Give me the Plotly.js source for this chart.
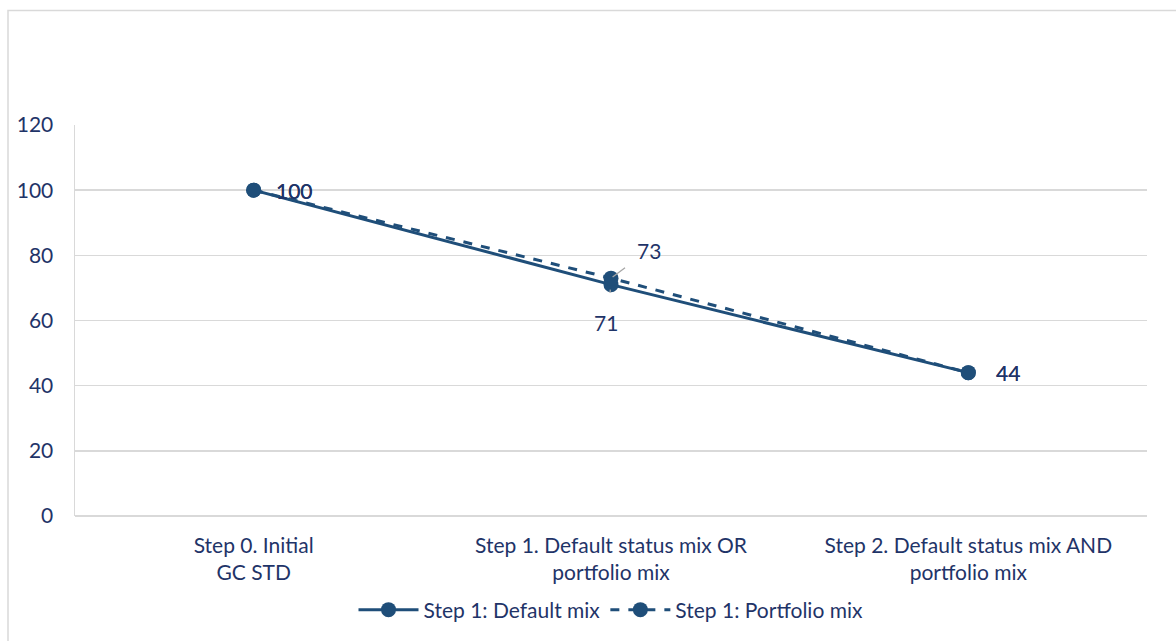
<!DOCTYPE html>
<html>
<head>
<meta charset="utf-8">
<script src="https://cdn.plot.ly/plotly-3.0.1.min.js"></script>
<style>html,body{margin:0;padding:0;background:#fff;}#chart{width:1176px;height:641px;}</style>
</head>
<body>
<div id="chart"></div>
<script>
const categories = ["Step 0. Initial<br>GC STD", "Step 1. Default status mix OR<br>portfolio mix", "Step 2. Default status mix AND<br>portfolio mix"];
const defaultMix = [100, 71, 44];
const portfolioMix = [100, 73, 44];
const seriesNames = ["Step 1: Default mix", "Step 1: Portfolio mix"];
const yTicks = [0, 20, 40, 60, 80, 100, 120];

const lineColor = "#1F4E79";
const textColor = "#1F3468";
const fontFamily = "Lato, 'Open Sans', sans-serif";
const fs = 21;

const traces = [
  {
    x: categories, y: defaultMix, name: seriesNames[0],
    type: "scatter", mode: "lines+markers",
    line: {color: lineColor, width: 3},
    marker: {color: lineColor, size: 15},
    cliponaxis: false
  },
  {
    x: categories, y: portfolioMix, name: seriesNames[1],
    type: "scatter", mode: "lines+markers",
    line: {color: lineColor, width: 3, dash: "dash"},
    marker: {color: lineColor, size: 15},
    cliponaxis: false
  }
];

const labelFont = {family: fontFamily, size: fs, color: textColor};
const annotations = [];
// end-point labels (both series share the same values there)
[0, 2].forEach(i => {
  [defaultMix, portfolioMix].forEach(arr => {
    annotations.push({
      x: categories[i], y: arr[i], text: String(arr[i]),
      showarrow: false, xanchor: "left", yanchor: "middle",
      xshift: i === 0 ? 20 : 26, font: labelFont
    });
  });
});
// middle callouts
annotations.push({
  x: categories[1], y: portfolioMix[1], text: String(portfolioMix[1]),
  showarrow: true, arrowhead: 0, arrowwidth: 1.3, arrowcolor: "#A6A6A6",
  ax: 38, ay: -28, xanchor: "center", yanchor: "middle",
  standoff: 2, startstandoff: 13, font: labelFont
});
annotations.push({
  x: categories[1], y: defaultMix[1], text: String(defaultMix[1]),
  showarrow: true, arrowhead: 0, arrowwidth: 1.3, arrowcolor: "#A6A6A6",
  ax: -5, ay: 38, xanchor: "center", yanchor: "middle",
  standoff: 5, startstandoff: 16, font: labelFont
});

const layout = {
  width: 1176, height: 641,
  margin: {l: 75, r: 29, t: 125, b: 124},
  paper_bgcolor: "#ffffff", plot_bgcolor: "#ffffff",
  font: {family: fontFamily, size: fs, color: textColor},
  showlegend: true,
  legend: {
    orientation: "h", x: 0.5, xanchor: "center", y: -0.185, yanchor: "top",
    font: {family: fontFamily, size: fs, color: textColor},
    itemwidth: 60
  },
  xaxis: {
    type: "category", range: [-0.5, 2.5],
    showgrid: false, zeroline: false,
    showline: false, ticks: "", ticklabelstandoff: 15,
    tickfont: {family: fontFamily, size: fs, color: textColor},
    fixedrange: true
  },
  yaxis: {
    range: [0, 120], tickvals: yTicks, ticktext: yTicks.map(String),
    showgrid: true, gridcolor: "#D9D9D9", gridwidth: 1.5,
    zeroline: true, zerolinecolor: "#D9D9D9", zerolinewidth: 1.5,
    showline: true, linecolor: "#D9D9D9", linewidth: 1.5,
    ticks: "", ticklabelstandoff: 16,
    tickfont: {family: fontFamily, size: fs, color: textColor},
    fixedrange: true
  },
  annotations: annotations,
  shapes: [
    {type: "rect", xref: "paper", yref: "paper", x0: -0.0625, x1: 1.2, y0: -0.5, y1: 1.293,
     line: {color: "#D9D9D9", width: 1.5}, fillcolor: "rgba(0,0,0,0)", layer: "below"}
  ]
};

Plotly.newPlot("chart", traces, layout, {displayModeBar: false, staticPlot: true});
</script>
</body>
</html>
